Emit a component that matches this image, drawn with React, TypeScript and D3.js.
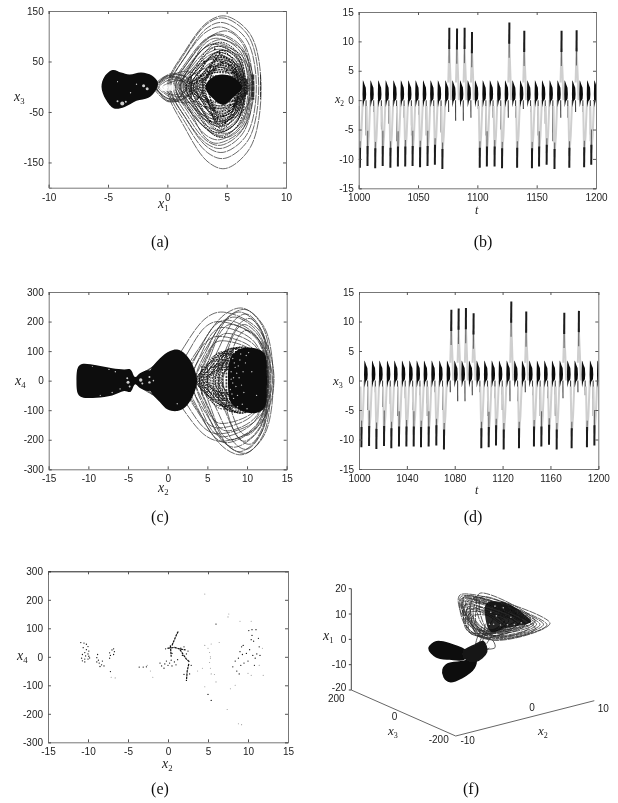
import React, { useEffect, useRef } from 'react';
import * as d3 from 'd3';

type Loop = number[];
type Pt = number[];

// panel (a) x1 / x3 phase portrait, loops are [left, right, top, bottom, apexX]
const aLoops: Loop[] = [
  [0.0, 7.9, 140, -162, 4.9], [0.1, 7.7, 136, -142, 4.8], [0.3, 7.5, 127, -130, 4.7], [0.2, 7.2, 118, -122, 4.6],
  [0.5, 7.1, 104, -116, 4.5], [0.7, 6.95, 102, -105, 4.4], [0.9, 6.8, 93, -96, 4.7], [0.7, 6.6, 86, -90, 4.4],
  [1.0, 6.5, 80, -86, 4.5], [1.1, 6.4, 74, -78, 4.6], [1.3, 6.3, 68, -72, 4.5], [1.5, 6.2, 62, -68, 4.6],
  [1.4, 6.1, 58, -60, 4.4], [1.8, 6.0, 52, -56, 4.5], [2.0, 5.9, 47, -52, 4.7], [2.2, 5.8, 43, -48, 4.5],
  [2.5, 5.7, 38, -42, 4.6], [2.7, 5.6, 33, -38, 4.5], [1.0, 6.3, 40, -44, 4.2], [0.8, 6.7, 55, -64, 4.3],
  [-1.2, 1.4, 22, -28, 0.2], [-1.0, 1.6, 18, -24, 0.3], [-0.7, 1.7, 14, -16, 0.4], [-1.0, 2.0, 26, -30, 0.5],
  [-0.4, 2.4, 12, -20, 1.0], [-0.8, 3.0, 30, -32, 1.6], [1.2, 7.3, 96, -112, 4.2], [0.6, 7.0, 110, -100, 5.1],
  [1.6, 6.9, 72, -92, 5.0], [1.1, 7.2, 84, -70, 4.0], [-1.1, 2.2, 24, -26, 0.6], [-0.9, 1.9, 20, -30, 0.2],
];
const aMidLoops: Loop[] = [
  [1.6, 6.6, 88, -100, 4.6], [1.8, 6.5, 80, -92, 4.4], [2.0, 6.5, 72, -88, 4.8], [2.2, 6.4, 68, -80, 4.5],
  [2.0, 6.4, 62, -74, 4.3], [2.4, 6.3, 58, -70, 4.7], [2.6, 6.3, 54, -66, 4.5], [2.3, 6.2, 50, -60, 4.4],
  [2.7, 6.2, 46, -58, 4.8], [2.8, 6.1, 42, -54, 4.6], [3.0, 6.1, 38, -50, 4.4], [2.9, 6.0, 44, -60, 4.6],
  [3.1, 6.0, 60, -76, 4.5], [3.2, 5.9, 72, -84, 4.6], [3.4, 5.8, 50, -68, 4.7], [3.5, 5.7, 64, -78, 4.5],
  [1.5, 6.9, 28, -32, 4.4], [1.7, 6.8, 34, -38, 4.6], [1.9, 6.7, 22, -30, 4.5], [2.1, 6.6, 30, -44, 4.7],
];
const aCore: Pt[] = [[3.2, 0], [3.7, 17], [4.6, 24], [5.6, 18], [6.3, 0], [5.6, -20], [4.7, -36], [3.7, -20]];
const aLeft: Pt[] = [[-5.55, 0], [-5.3, 20], [-4.6, 33], [-3.9, 28], [-3.2, 24], [-2.2, 28], [-1.3, 22], [-0.8, 8], [-1.0, -8], [-1.6, -22], [-2.6, -28], [-3.6, -40], [-4.5, -43], [-5.2, -25]];
const aStripes: number[][] = [[7.2, 24, -26, 3], [7.85, 24, -24, 1], [6.7, 16, -16, 2], [2.0, 22, -22, 1.5], [2.5, 14, -14, 1.5], [3.0, 18, -18, 1.5], [6.4, 22, -22, 1.2]];
const aHoles: number[][] = [[-3.8, -33, 2], [-3.5, -30, 1], [-4.2, -29, 1], [-2.0, 2, 1.5], [-1.7, -4, 1.5], [-3, 29, 1], [-4.2, 10, 0.6], [-2.6, 5, 0.7], [-3.1, -12, 0.7], [0.0, -2, 3.5], [-0.4, -3, 3], [0.4, -2, 3]];
const aDots: Pt[] = [[3.1, 50], [3.6, 40], [4.1, 55], [4.6, 48], [5.2, 42], [5.7, 35], [3.2, -40], [3.8, -55], [4.2, -62], [4.7, -58], [5.2, -48], [5.6, -38], [5.9, -22], [4.4, 66], [4.9, -72], [3.6, -68], [4.0, 74], [3.4, 30], [4.0, 33], [5.0, 32], [5.5, 28], [3.4, -30], [4.0, -42], [5.3, -36], [2.8, 22], [2.6, -22]];

// panel (c) x2 / x4 phase portrait
const cLoops: Loop[] = [
  [0.0, 13.4, 232, -205, 7.0], [2.0, 13.3, 245, -250, 9.5], [3.0, 13.0, 240, -245, 9.9], [4.0, 12.9, 232, -240, 9.2],
  [3.5, 12.8, 215, -225, 8.5], [2.5, 12.7, 205, -210, 7.5], [5.0, 12.7, 225, -232, 10], [4.5, 12.6, 190, -200, 8],
  [6.0, 12.6, 210, -215, 10.4], [3.0, 12.5, 180, -190, 7], [4.0, 12.5, 160, -170, 7.5], [6.5, 12.6, 190, -205, 9.7],
  [2.0, 12.4, 150, -160, 6.5], [7.0, 12.5, 170, -185, 10], [3.5, 12.4, 135, -145, 6.8], [1.0, 13.2, 200, -180, 6.5],
  [-3.5, 3.0, 72, -70, 0.2], [-3.8, 2.5, 60, -62, -0.2], [-4.2, 2.5, 48, -50, -1.0],
];
const cMidLoops: Loop[] = [
  [3.6, 12.4, 100, -90, 8], [4.0, 12.4, 108, -100, 8.5], [4.4, 12.4, 112, -108, 9], [4.8, 12.4, 114, -110, 9.5],
  [3.8, 12.4, 85, -80, 7], [5.2, 12.4, 110, -105, 8.2], [5.6, 12.4, 106, -104, 8.8], [6.0, 12.4, 112, -110, 9.2],
  [3.5, 12.0, 70, -66, 6.5], [4.6, 12.2, 92, -88, 7.5], [6.4, 12.4, 100, -95, 9], [4.1, 12.3, 60, -60, 7],
  [5.0, 12.4, 76, -72, 8], [6.8, 12.4, 90, -92, 9.4], [3.9, 11, 50, -48, 6.5], [4.4, 10.5, 38, -40, 7],
  [4.2, 12, 98, -96, 7], [5.4, 12.2, 88, -84, 7.5], [6.2, 12.3, 80, -76, 8], [5.8, 11.8, 66, -62, 7.6],
  [4.8, 11.5, 56, -52, 7.2], [3.7, 11.8, 92, -86, 6.8], [5.0, 11, 44, -42, 7], [6.6, 12, 60, -56, 8.4],
];
const cCore: Pt[] = [[8.0, 82], [9.2, 108], [11, 110], [12.2, 92], [12.45, 0], [12.2, -92], [11, -110], [9.2, -100], [8.0, -76], [7.6, 0]];
const cCenter: Pt[] = [[-2.5, 0], [-2.2, 35], [-1, 75], [0.3, 100], [1.2, 105], [2.2, 90], [3.2, 50], [3.7, 0], [3.2, -50], [2.2, -90], [1.2, -103], [0, -98], [-1, -72], [-2.2, -35]];
const cLeft: Pt[] = [[-11.5, 0], [-11.3, 45], [-10.8, 56], [-9, 52], [-7, 42], [-5.5, 38], [-4.7, 38], [-4.1, 12], [-3.5, 25], [-2.5, 35], [-2, 30], [-2, -30], [-2.5, -35], [-3.5, -25], [-4.1, -12], [-4.7, -38], [-5.5, -35], [-7, -50], [-9, -58], [-10.8, -56], [-11.3, -45]];
const cStripes: number[][] = [[7.4, 95, -85, 1.8], [6.9, 85, -80, 1.5], [6.4, 70, -70, 1.2], [5.8, 60, -60, 1], [5.0, 55, -55, 1.2], [4.3, 50, -50, 1.2]];
const cHoles: number[][] = [[-5.0, -5, 1.5], [-5.1, 8, 1], [-4.8, -20, 1], [-3.4, 2, 1.7], [-3.2, -10, 1], [-2.3, 12, 1], [-2.3, -6, 1.2], [-1.8, 0, 0.8], [-6.6, 30, 0.7], [-7.4, 38, 0.7], [-8.5, -50, 0.6], [-7, -40, 0.7], [-6, -28, 0.7], [-9.5, 48, 0.5]];
const cSpecks: Pt[] = [[8.4, 60], [8.0, 30], [8.2, 75], [8.6, -20], [8.3, -60], [7.9, -30], [8.9, 50], [9.2, 90], [9.4, -80], [9.0, 10], [9.8, 60], [8.0, 5], [8.2, -8], [9.6, -40], [10.2, 95], [10.0, -95], [10.6, 30], [8.4, 95], [8.8, -88], [11.2, -50], [1.2, -78], [8.5, 45], [8.1, -45], [8.7, 25], [9.3, -15], [9.1, 70], [9.9, 85], [8.8, -50], [9.5, 30], [8.3, 10]];

// time series (b), (d): one event per swing, with its extreme and the shallower dip after it
const bTimes = [1001, 1007.4, 1013.9, 1020.2, 1026.7, 1033, 1039.2, 1045.4, 1051.7, 1058, 1064.2, 1070.5, 1076.4, 1082.9, 1089.3, 1095.5, 1102, 1108, 1114.5, 1120.8, 1127, 1133.5, 1139.6, 1146, 1152, 1158.4, 1165, 1171, 1177.5, 1183.7, 1190, 1196];
const bExtremes = [-11.5, -11.2, -11.6, -11.2, -11.5, -11.3, -11.3, -11.2, -11.4, -11.2, -11, -11.7, 12.3, 12.2, 12.3, 11.6, -11.5, -11.3, -11.3, -11.6, 13.2, -11.5, 11.8, -11.6, -11.3, -11, -11.7, 11.8, -11.5, 11.9, -11.4, -11];
const bDips = [-6, -2, -5, -4, -7, -3, -6, -2.5, -6, -2, -5.5, -2, -3.5, -3.5, -3, -1.5, -6, -3, -5, -3, -3, -1.5, -2, -6, -4, -7, -3, -3, -2, -2, -7, -3];
const dTimes = [1002, 1008.4, 1014.5, 1020.9, 1027, 1033.4, 1039.6, 1045.7, 1051.8, 1058.2, 1064.6, 1071, 1077.2, 1083.3, 1089.4, 1095.8, 1102.2, 1108.4, 1114.5, 1120.9, 1127.3, 1133.7, 1139.8, 1146.2, 1152.4, 1158.8, 1165.2, 1171.6, 1177.7, 1183.8, 1190.5, 1196.7];
const dExtremes = [-11.3, -11.1, -11.6, -11.1, -11.5, -11.2, -11.2, -11.2, -11.3, -11.2, -11, -11.7, 12, 12.2, 12.3, 11.4, -11.5, -11.3, -11, -11.7, 13.4, -11.5, 11.7, -11.2, -11.2, -10.9, -11.7, 11.5, -11.5, 11.8, -11.3, -11];
const dDips = [-5, -2, -4.5, -4, -6, -3, -5, -2.5, -6, -2, -5, -2, -3.5, -3.5, -2.5, -2, -6, -3, -5, -3.5, -3.5, -2, -2.5, -6, -3, -6, -3, -2.5, -2, -2.5, -6, -3];
const bandShape: Pt[] = [[2.2, 1], [2.5, 3.4], [3.0, 3.2], [4.0, 2.6], [5.0, 2.1], [5.3, 1], [5.0, 0.2], [3.6, -0.2], [2.6, -1.2]];

// panel (e) Poincare section: dark points, faint points, dark streaks
const eDark: Pt[] = [
  [-10.9, 50], [-10.5, 48], [-10.2, 44], [-10, 36], [-10.6, 32], [-10.2, 25], [-9.9, 20], [-10.4, 15], [-10, 10], [-10.7, 8], [-10.3, 3], [-9.9, 2], [-10.8, -5], [-10.4, -8], [-10, -8], [-10.7, -14], [-10.4, -18], [-9.8, -4],
  [-8.8, 8], [-8.9, -3], [-8.7, -12], [-8.6, -22], [-8.3, -28], [-8.0, -32], [-8.5, -34], [-8.2, -15], [-8.9, -18],
  [-7.2, 5], [-7.3, 14], [-7.0, 24], [-6.8, 28], [-6.7, 18], [-6.8, 8], [-7.3, -5], [-7.2, -52],
  [-3.6, -36], [-3.1, -36], [-2.7, -35],
  [-1.0, -22], [-0.8, -32], [-0.5, -40], [-0.4, -25], [-0.2, -15], [0, -30], [0.2, -22], [0.4, -12], [0.5, -32], [0.8, -18], [1.0, -28], [1.2, -10], [-0.3, 28], [0.0, 30], [0.5, 12], [1.6, 30], [2.0, 35], [2.5, 20], [2.9, -30], [2.7, -60], [2.0, -62], [2.3, 10], [1.8, 5],
  [8.1, -35], [8.4, -15], [8.6, -50], [8.9, -60], [8.8, -5], [9.0, 18], [9.2, 35], [9.1, -30], [9.3, 8], [9.5, -22], [9.4, 40], [9.8, 12], [10.0, -15], [10.2, 25], [10.4, 60], [10.5, 75], [10.7, 55], [10.6, 5], [10.9, -5], [11.1, 10], [11.3, 65], [11.4, 35], [10.8, -30], [11.5, 5], [10.1, 92], [10.5, 95], [11.0, 95], [5.0, -132], [5.4, -153], [6.0, 115],
];
const eFaint: Pt[] = [
  [-7.1, -72], [-6.6, -74], [-2.6, -30], [-2.2, -50], [-1.9, -72], [3.7, -50], [4.3, -40], [4.6, 40], [5.2, 15], [5.3, -5], [5.2, -20], [5.3, 0], [5.4, -60], [5.8, -62], [6.0, -88], [4.6, -105], [5.3, -40], [5.4, 45], [5.0, 30], [7.5, 140], [7.4, -185], [7.8, -112], [8.8, -235], [9.2, -238], [6.4, 50], [9.0, 125], [10.4, 125], [11.9, -65], [10.4, -65], [11.8, 30], [4.6, 220], [11.4, -30], [10.0, -58], [7.6, 150], [8.4, -100],
];
const eStreaks: Pt[][] = [
  [[0.5, 40], [0.8, 60], [1.1, 80], [1.3, 90]],
  [[0.3, 40], [0.35, 20], [0.4, 0]],
  [[0.0, 30], [0.8, 33], [1.4, 28], [2.2, 24]],
  [[1.5, 25], [1.9, 8], [2.3, -8], [2.7, -18]],
  [[2.6, -25], [2.4, -50], [2.3, -85]],
];

// panel (f): shapes given in (x2, x1) on the mid plane x3 = 0, loops are top, tip, bottom, left
const fWingLoops: number[][] = [
  [-1.85, 20.9, 11.14, 0.7, 2.73, 0, -1.4, 12], [-1.7, 20.2, 10.7, 0.4, 2.9, 0.6, -1.1, 12], [-1.4, 19.6, 10.2, 0.9, 3.2, 0.8, -0.9, 12],
  [-1.2, 19, 9.7, 1.2, 3.4, 1.0, -0.7, 11.5], [-0.9, 18.4, 9.2, 1.6, 3.0, 1.6, -0.4, 11], [-0.7, 17.8, 8.8, 2.0, 2.9, 2.6, -0.2, 11],
  [-0.4, 17, 8.4, 2.4, 2.6, 3.4, 0.1, 10.5], [-1.5, 18, 7.6, 3, 1.5, 3.4, -0.8, 10], [-1.2, 16.4, 6.8, 4, 1.3, 4.4, -0.6, 10],
  [-0.8, 14.6, 6, 5, 1.0, 5.0, -0.5, 9.5], [-0.4, 13, 5.2, 6, 1.0, 2.5, -0.2, 8], [0, 11.4, 4.6, 6.4, 1.0, 3, 0, 7],
  [1.0, 19.6, 9, 3, 2, 5, 0.6, 13], [1.3, 18, 8.4, 4, 2.4, 4, 1, 13], [-1.6, 19.4, 8, 1, 1.8, 1.5, -1.2, 9], [-1.1, 20, 9, 0, 2.2, 0.5, -0.9, 8],
  [-0.9, 17, 5.5, 2, 1.4, 2, -1, 7], [-0.6, 15.5, 4.8, 3, 1.2, 3.6, -0.7, 6], [-0.3, 14, 4.2, 4, 1.0, 3, -0.4, 5], [0.2, 18.5, 7, 5, 1.6, 1.5, -0.2, 10],
  [0.5, 16, 7.5, 2.5, 1.8, 2.5, 0.2, 9], [0.8, 14, 6.5, 3.5, 1.7, 3.5, 0.5, 8],
];
const fWing: Pt[] = [[2, 15], [4.9, 13], [7.8, 5.7], [8.4, 3.2], [4.9, 3.2], [2.6, 3.4], [1.8, 9.7]];
const fWingSpecks: Pt[] = [[3, 6], [4, 5], [5, 4.4], [6, 3.8], [7, 3.8], [2.6, 11], [3.4, 9], [2.4, 6.4], [5.5, 7], [4.4, 11.5], [3.2, 13]];
const fLobeA: Pt[] = [[-6.18, 2.9], [-5.21, 4.4], [-3.29, 2.2], [-1.13, -2], [-1.37, -4.4], [-3.29, -3], [-5.21, -0.8]];
const fLobeB: Pt[] = [[-4.16, -7.1], [-3.54, -5.5], [-1.37, -6.1], [0.3, -6.2], [0.07, -9], [-1.6, -11.5], [-3.29, -11.9], [-4.01, -9.8]];
const fBridge: Pt[] = [[-1.37, -1.8], [0.32, -0.3], [1.5, 0.2], [2, -4.2], [0.32, -6.9], [-1.13, -4.6]];
const fStrands: Pt[][] = [
  [[1.4, 0.5], [2.2, 5], [2.9, 8]], [[0.9, 0], [1.6, 4], [1.8, 7]], [[2.0, -1], [2.8, 2], [3.6, 4.5]],
  [[1.7, -3], [3.2, -3.4], [2.9, -0.4], [1.9, 1.5]], [[0.5, -6], [1.4, -4], [2.4, -3]], [[0.2, -3], [0.6, 2], [1.4, 6]],
];

const eggFractions: Pt[] = [[0.3, 0.5], [0.7, 0.92], [1, 1]];

function eggPoints([l, r, top, bottom, m]: Loop): Pt[] {
  const up = eggFractions.map(([a, b]) => [l + a * (m - l), b * top]);
  const down = eggFractions.map(([a, b]) => [l + a * (m - l), b * bottom]).reverse();
  return [[l, 0], ...up, [m + 0.7 * (r - m), 0.74 * top], [r, 0], [m + 0.7 * (r - m), 0.74 * bottom], ...down];
}

type AxisProps = {
  x: d3.ScaleLinear<number, number>; y: d3.ScaleLinear<number, number>;
  xTicks: number[]; yTicks: number[]; darkTop?: boolean;
};

function Axes({ x, y, xTicks, yTicks, darkTop }: AxisProps) {
  const ref = useRef<SVGGElement>(null);
  useEffect(() => {
    const g = d3.select(ref.current);
    g.selectAll('*').remove();
    const [x0, x1] = x.range();
    const [y0, y1] = y.range();
    const label = (d: any) => String(d);
    g.append('g').attr('transform', `translate(0,${y0})`).call(d3.axisBottom(x).tickValues(xTicks).tickFormat(label).tickSize(-3).tickPadding(6));
    g.append('g').attr('transform', `translate(${x0},0)`).call(d3.axisLeft(y).tickValues(yTicks).tickFormat(label).tickSize(-3).tickPadding(5));
    g.append('g').attr('class', 'top').attr('transform', `translate(0,${y1})`).call(d3.axisTop(x).tickValues(xTicks).tickFormat(() => '').tickSize(-3));
    g.append('g').attr('transform', `translate(${x1},0)`).call(d3.axisRight(y).tickValues(yTicks).tickFormat(() => '').tickSize(-3));
    g.selectAll('path.domain').attr('stroke', '#777').attr('stroke-width', 1);
    g.selectAll('.tick line').attr('stroke', '#555');
    g.selectAll('text').attr('fill', '#222').attr('font-size', 10).attr('font-family', '"Liberation Sans", Arial, sans-serif');
    if (darkTop) g.select('g.top path.domain').attr('stroke', '#222');
  }, [x, y, xTicks, yTicks, darkTop]);
  return <g ref={ref} />;
}

function VarLabel({ x, y, sub, size = 14, name = 'x' }: { x: number; y: number; sub?: string; size?: number; name?: string }) {
  return (
    <text x={x} y={y} fontFamily='"Liberation Serif", serif' fontStyle="italic" fontSize={size} fill="#222">
      {name}{sub && <tspan dy={3} fontSize={size * 0.62} fontStyle="normal">{sub}</tspan>}
    </text>
  );
}

function Caption({ x, y, text }: { x: number; y: number; text: string }) {
  return <text x={x} y={y} textAnchor="middle" fontFamily='"Liberation Serif", serif' fontSize={16} fill="#111">{text}</text>;
}

function PhasePanel(props: {
  x: d3.ScaleLinear<number, number>; y: d3.ScaleLinear<number, number>; id: string;
  loops: Loop[]; dashed?: Loop[]; blobs: Pt[][]; holes: number[][]; specks: Pt[]; dots?: Pt[]; stripes?: number[][]; stripeDash?: string;
  xTicks: number[]; yTicks: number[];
}) {
  const { x, y, id, loops, dashed = [], blobs, holes, specks, dots = [], stripes = [], stripeDash, xTicks, yTicks } = props;
  const closed = d3.line<Pt>().x(d => x(d[0])).y(d => y(d[1])).curve(d3.curveCatmullRomClosed);
  const [x0, x1] = x.range();
  const [y0, y1] = y.range();
  return (
    <g>
      <clipPath id={id}><rect x={x0} y={y1} width={x1 - x0} height={y0 - y1} /></clipPath>
      <g clipPath={`url(#${id})`}>
        {loops.map((l, i) => <path key={i} d={closed(eggPoints(l)) || ''} fill="none" stroke="#2a2a2a" strokeWidth={0.7} strokeDasharray="9 0.8" />)}
        {dashed.map((l, i) => <path key={i} d={closed(eggPoints(l)) || ''} fill="none" stroke="#111" strokeWidth={0.9} strokeDasharray="1.8 1" />)}
        {stripes.map(([sx, a, b, w], i) => <line key={i} x1={x(sx)} x2={x(sx)} y1={y(a)} y2={y(b)} stroke="#222" strokeWidth={w} strokeDasharray={stripeDash} opacity={0.85} />)}
        {blobs.map((b, i) => <path key={i} d={closed(b) || ''} fill="#0a0a0a" />)}
        {holes.map(([cx, cy, r], i) => <circle key={i} cx={x(cx)} cy={y(cy)} r={r} fill="#fff" opacity={0.8} />)}
        {specks.map(([cx, cy], i) => <circle key={i} cx={x(cx)} cy={y(cy)} r={0.7} fill="#fff" opacity={0.75} />)}
        {dots.map(([cx, cy], i) => <circle key={i} cx={x(cx)} cy={y(cy)} r={1} fill="#111" />)}
      </g>
      <Axes x={x} y={y} xTicks={xTicks} yTicks={yTicks} />
    </g>
  );
}

function TimePanel({ x, y, id, times, extremes, dips, xTicks, yTicks }: {
  x: d3.ScaleLinear<number, number>; y: d3.ScaleLinear<number, number>; id: string;
  times: number[]; extremes: number[]; dips: number[]; xTicks: number[]; yTicks: number[];
}) {
  const [x0, x1] = x.range();
  const [y0, y1] = y.range();
  const band = d3.line<Pt>().x(d => x(d[0])).y(d => y(d[1]));
  return (
    <g>
      <clipPath id={id}><rect x={x0} y={y1} width={x1 - x0} height={y0 - y1} /></clipPath>
      <g clipPath={`url(#${id})`}>
        {times.map((t, i) => {
          const v = extremes[i];
          const spike = v > 0;
          return (
            <g key={i}>
              {spike ? (
                <>
                  <path d={band([[t - 0.9, 3], [t - 0.1, v - 3], [t + 0.9, 4], [t + 1.5, 0]]) || ''} fill="none" stroke="#cfcfcf" strokeWidth={2} />
                  <path d={band([[t - 0.2, v - 6], [t - 0.1, v - 2]]) || ''} stroke="#666" strokeWidth={1.1} fill="none" />
                  <path d={band([[t - 0.1, v - 3.6], [t, v]]) || ''} stroke="#1a1a1a" strokeWidth={2} fill="none" />
                </>
              ) : (
                <>
                  <path d={band([[t - 0.8, -1], [t, v + 2], [t + 1.2, -6], [t + 2.4, 0]]) || ''} fill="none" stroke="#cfcfcf" strokeWidth={2} />
                  <path d={band([[t + 0.1, v + 3], [t + 0.2, dips[(i + 1) % dips.length] < -4 ? v + 6 : v + 4.5]]) || ''} stroke="#666" strokeWidth={1.1} fill="none" />
                  <path d={band([[t, v], [t + 0.1, v + 3.4]]) || ''} stroke="#1a1a1a" strokeWidth={2} fill="none" />
                </>
              )}
              <path d={band([[t + 5.2, 0], [t + 5.3, dips[i]]]) || ''} stroke="#444" strokeWidth={1.1} fill="none" />
              <path d={(band(bandShape.map(([a, b]) => [t + a, b])) || '') + 'Z'} fill="#0a0a0a" />
            </g>
          );
        })}
      </g>
      <Axes x={x} y={y} xTicks={xTicks} yTicks={yTicks} />
    </g>
  );
}

function ScatterPanel() {
  const x = d3.scaleLinear().domain([-15, 15]).range([48, 288]);
  const y = d3.scaleLinear().domain([-300, 300]).range([742.3, 571.3]);
  const streak = d3.line<Pt>().x(d => x(d[0])).y(d => y(d[1]));
  return (
    <g>
      {eFaint.map(([a, b], i) => <circle key={i} cx={x(a)} cy={y(b)} r={0.55} fill="#999" />)}
      {eDark.map(([a, b], i) => <circle key={i} cx={x(a)} cy={y(b)} r={0.65} fill="#111" />)}
      {eStreaks.map((s, i) => <path key={i} d={streak(s) || ''} fill="none" stroke="#111" strokeWidth={1.2} strokeDasharray="2.5 0.7" />)}
      <Axes x={x} y={y} xTicks={[-15, -10, -5, 0, 5, 10, 15]} yTicks={[-300, -200, -100, 0, 100, 200, 300]} darkTop />
    </g>
  );
}

function ThreeDPanel() {
  // axis edges of the projected box
  const corner = { x: 455.7, y: 736 };
  const x2Edge = d3.scaleLinear().domain([-10, 10]).range([0, 1]);
  const x3Edge = d3.scaleLinear().domain([-200, 200]).range([0, 1]);
  const x1Edge = d3.scaleLinear().domain([-20, 20]).range([690, 588.7]);
  const px = (x2: number, x3: number) => corner.x + x2Edge(x2) * 138.6 - x3Edge(x3) * 104.4;
  const py = (x2: number, x3: number, x1: number) => x1Edge(x1) + 46 - x2Edge(x2) * 35.3 - x3Edge(x3) * 46;
  const plane = d3.line<Pt>().x(d => px(d[0], 0)).y(d => py(d[0], 0, d[1]));
  const smooth = plane.curve(d3.curveCatmullRomClosed);
  const closedPath = (pts: Pt[]) => smooth(pts) || '';
  const open = d3.line<Pt>().x(d => px(d[0], 0)).y(d => py(d[0], 0, d[1])).curve(d3.curveCatmullRom);
  const tickStyle = { fontFamily: '"Liberation Sans", Arial, sans-serif', fontSize: 10, fill: '#222' };
  const x1Ticks = [20, 10, 0, -10, -20];
  const axisX = px(-10, 200);
  return (
    <g>
      <line x1={axisX} x2={axisX} y1={x1Edge(-20)} y2={x1Edge(20)} stroke="#444" />
      <line x1={axisX} y1={x1Edge(-20)} x2={px(-10, -200)} y2={py(-10, -200, -20)} stroke="#666" />
      <line x1={px(-10, -200)} y1={py(-10, -200, -20)} x2={px(10, -200)} y2={py(10, -200, -20)} stroke="#666" />
      {x1Ticks.map(t => (
        <g key={t}>
          <line x1={axisX} x2={axisX - 2.5} y1={x1Edge(t)} y2={x1Edge(t)} stroke="#444" />
          <text x={axisX - 5} y={x1Edge(t) + (t === -20 ? 1 : 3.5)} textAnchor="end" {...tickStyle}>{t}</text>
        </g>
      ))}
      <text x={px(-10, 200) - 15} y={py(-10, 200, -20) + 12} textAnchor="middle" {...tickStyle}>200</text>
      <text x={px(-10, 0) - 9} y={py(-10, 0, -20) + 7} textAnchor="middle" {...tickStyle}>0</text>
      <text x={px(-10, -200) - 17} y={py(-10, -200, -20) + 7} textAnchor="middle" {...tickStyle}>-200</text>
      <text x={px(-10, -200) + 12} y={py(-10, -200, -20) + 8} textAnchor="middle" {...tickStyle}>-10</text>
      <text x={px(0, -200) + 7} y={py(0, -200, -20) - 7} textAnchor="middle" {...tickStyle}>0</text>
      <text x={px(10, -200) + 9} y={py(10, -200, -20) + 11} textAnchor="middle" {...tickStyle}>10</text>
      {fWingLoops.map((l, i) => (
        <path key={i} d={closedPath([[l[0], l[1]], [l[2], l[3]], [l[4], l[5]], [l[6], l[7]]])} fill="none" stroke="#2a2a2a" strokeWidth={0.75} strokeDasharray="7 0.8" />
      ))}
      {fStrands.map((s, i) => <path key={i} d={open(s) || ''} fill="none" stroke="#333" strokeWidth={0.8} />)}
      <path d={closedPath(fWing)} fill="#0d0d0d" opacity={0.9} />
      {fWingSpecks.map(([a, b], i) => <circle key={i} cx={px(a, 0)} cy={py(a, 0, b)} r={0.8} fill="#fff" opacity={0.7} />)}
      <path d={closedPath(fLobeA)} fill="#080808" stroke="#080808" strokeWidth={3.5} />
      <path d={closedPath(fLobeB)} fill="#080808" stroke="#080808" strokeWidth={3.5} />
      <path d={closedPath(fBridge)} fill="#181818" stroke="#181818" strokeWidth={1.5} />
    </g>
  );
}

const aX = d3.scaleLinear().domain([-10, 10]).range([48.7, 286]);
const aY = d3.scaleLinear().domain([-200, 150]).range([187.7, 11]);
const bX = d3.scaleLinear().domain([1000, 1200]).range([358.7, 596]);
const bY = d3.scaleLinear().domain([-15, 15]).range([188.3, 12]);
const cX = d3.scaleLinear().domain([-15, 15]).range([48.7, 286.7]);
const cY = d3.scaleLinear().domain([-300, 300]).range([469.3, 292]);
const dX = d3.scaleLinear().domain([1000, 1200]).range([359, 598.3]);
const dY = d3.scaleLinear().domain([-15, 15]).range([469, 292]);

export default function App() {
  return (
    <svg width={618} height={803} style={{ position: 'absolute', left: 0, top: 0, background: '#fff' }}>
      <defs>
        <filter id="soft" x="0" y="0" width="100%" height="100%"><feGaussianBlur stdDeviation={0.5} /></filter>
      </defs>
      <g filter="url(#soft)">
        <rect width={618} height={803} fill="#fff" />
        <PhasePanel id="pa" x={aX} y={aY} loops={aLoops} dashed={aMidLoops} blobs={[aCore, aLeft]} holes={aHoles} specks={[]} dots={aDots} stripes={aStripes} stripeDash="5 0.8"
          xTicks={[-10, -5, 0, 5, 10]} yTicks={[-150, -50, 50, 150]} />
        <TimePanel id="pb" x={bX} y={bY} times={bTimes} extremes={bExtremes} dips={bDips} xTicks={[1000, 1050, 1100, 1150, 1200]} yTicks={[-15, -10, -5, 0, 5, 10, 15]} />
        <PhasePanel id="pc" x={cX} y={cY} loops={cLoops} dashed={cMidLoops} blobs={[cCore, cCenter, cLeft]} holes={cHoles} specks={cSpecks} stripes={cStripes} stripeDash="2.2 1.1"
          xTicks={[-15, -10, -5, 0, 5, 10, 15]} yTicks={[-300, -200, -100, 0, 100, 200, 300]} />
        <TimePanel id="pd" x={dX} y={dY} times={dTimes} extremes={dExtremes} dips={dDips} xTicks={[1000, 1040, 1080, 1120, 1160, 1200]} yTicks={[-15, -10, -5, 0, 5, 10, 15]} />
        <ScatterPanel />
        <ThreeDPanel />

        <VarLabel x={158} y={208} sub="1" />
        <VarLabel x={14} y={101} sub="3" />
        <VarLabel x={475} y={214} name="t" size={12} />
        <VarLabel x={335} y={103} sub="2" size={12} />
        <VarLabel x={158} y={492} sub="2" />
        <VarLabel x={15} y={385} sub="4" />
        <VarLabel x={475} y={494} name="t" size={12} />
        <VarLabel x={333} y={385} sub="3" size={13} />
        <VarLabel x={162} y={768} sub="2" />
        <VarLabel x={17} y={660} sub="4" />
        <VarLabel x={323} y={640} sub="1" />
        <VarLabel x={388} y={735} sub="3" size={13} />
        <VarLabel x={538} y={735} sub="2" size={13} />

        <Caption x={160} y={247} text="(a)" />
        <Caption x={483} y={247} text="(b)" />
        <Caption x={160} y={522} text="(c)" />
        <Caption x={473} y={522} text="(d)" />
        <Caption x={160} y={794} text="(e)" />
        <Caption x={471} y={794} text="(f)" />
      </g>
    </svg>
  );
}
